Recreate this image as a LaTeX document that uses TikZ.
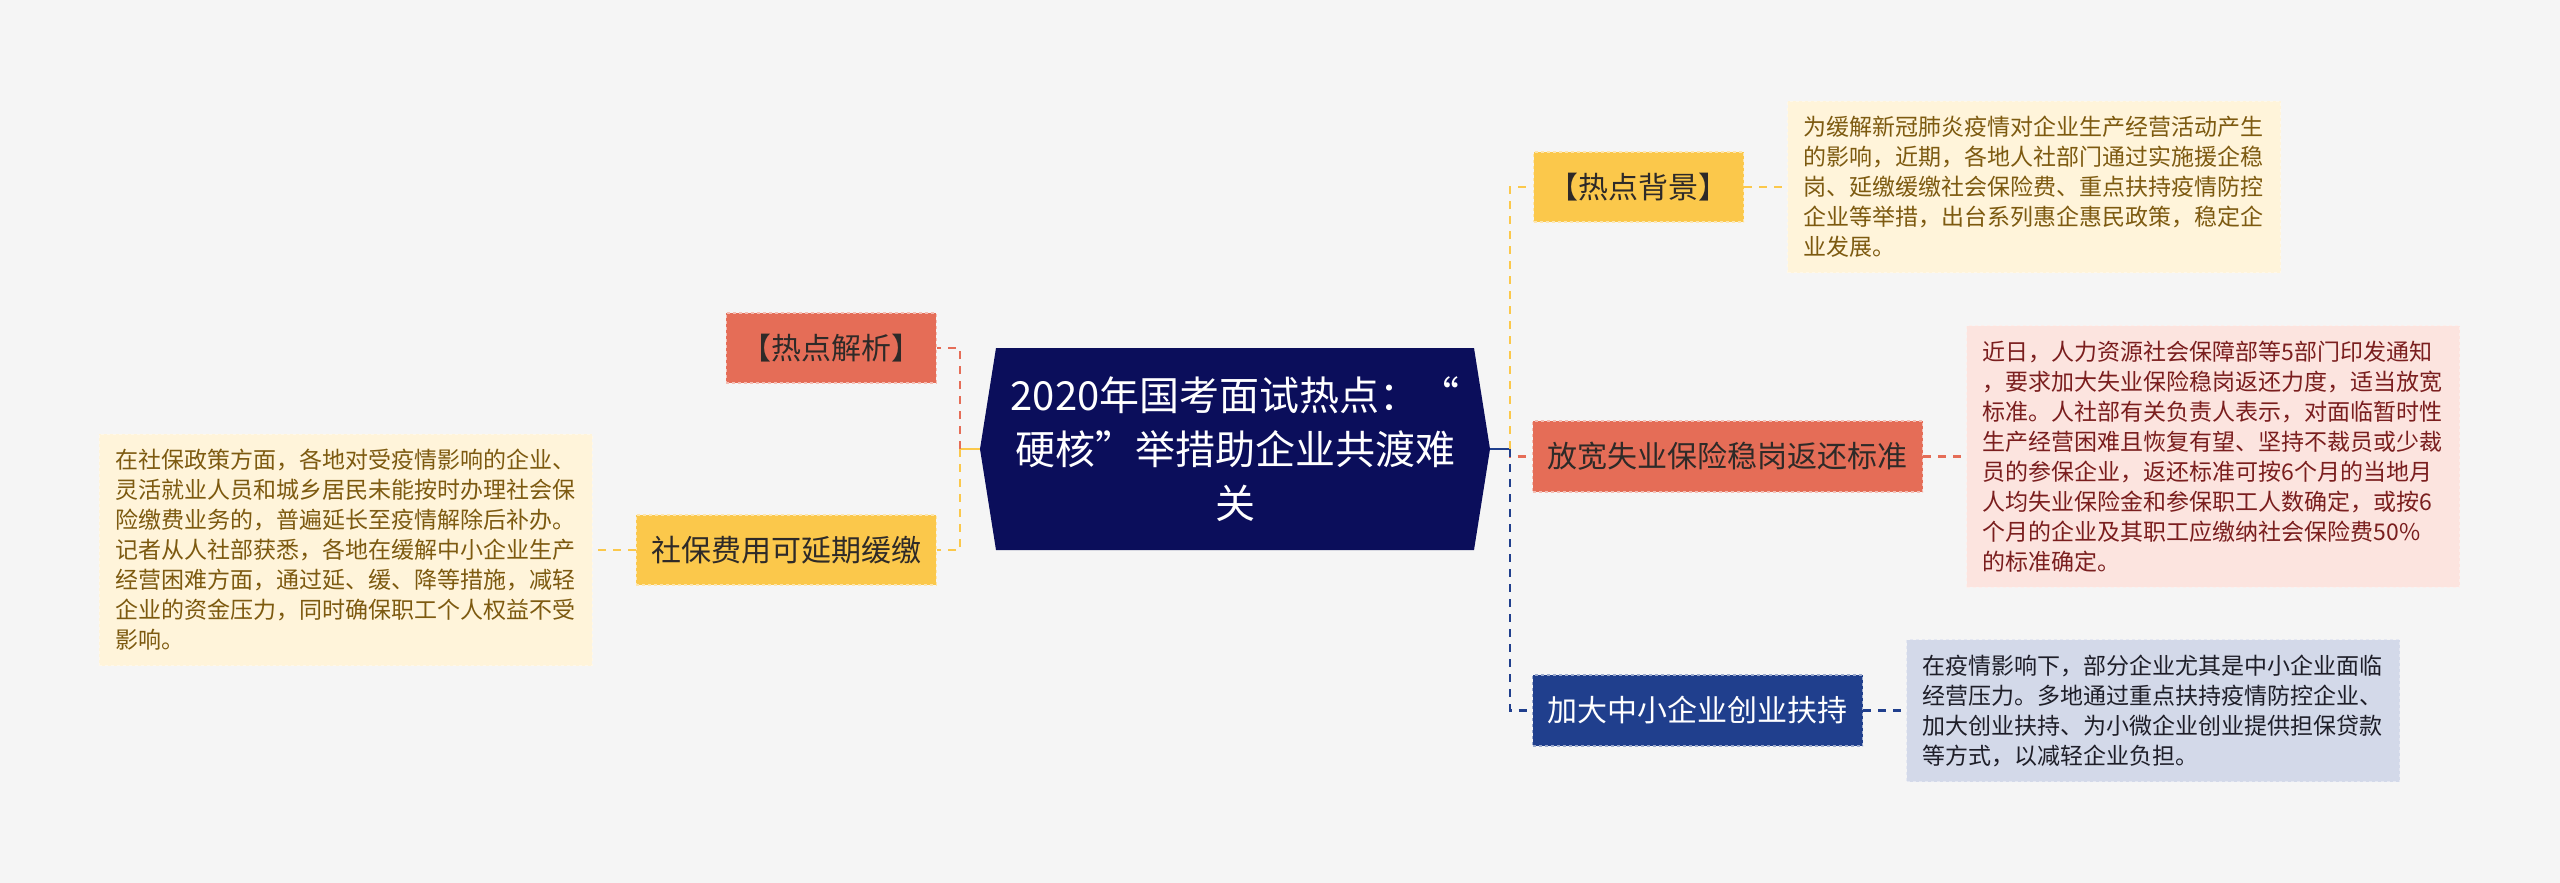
\documentclass[tikz,border=0pt]{standalone}
\usepackage{fontspec}
\setmainfont{Noto Sans CJK SC}
\usetikzlibrary{positioning,calc}
\definecolor{paperGray}{HTML}{F5F5F5}
\definecolor{hubNavy}{HTML}{0B0E5B}
\definecolor{hotRed}{HTML}{E56D57}
\definecolor{hotYellow}{HTML}{FBC84B}
\definecolor{hotBlue}{HTML}{203F8D}
\definecolor{creamFill}{HTML}{FFF4DA}
\definecolor{creamInk}{HTML}{7D5A10}
\definecolor{pinkFill}{HTML}{FCE4DF}
\definecolor{pinkInk}{HTML}{7A1E1E}
\definecolor{mistFill}{HTML}{D3D9E9}
\definecolor{mistInk}{HTML}{1E1E28}
\definecolor{darkInk}{HTML}{2E2A28}

\begin{document}
\begin{tikzpicture}[x=1pt, y=-1pt, node distance=43pt,
          hub/.style={align=center, text=white, font=\fontsize{40pt}{54pt}\selectfont},
          topic/.style={rectangle, dashed, line width=1.4pt, inner xsep=15pt, minimum height=70pt, font=\fontsize{30pt}{36pt}\selectfont, text=darkInk},
          bigtopic/.style={topic, minimum height=71pt},
          leaf/.style={rectangle, dashed, line width=1pt, inner xsep=16pt, inner ysep=15pt, text width=461pt, align=left, font=\fontsize{23pt}{30pt}\selectfont},
          wire/.style={dash pattern=on 8pt off 7pt, line width=2.5pt}]
        \useasboundingbox (0,0) rectangle (2560,883);
        \fill[paperGray] (0,0) rectangle (2560,883);
        % hub with pointed sides
        \coordinate (hubC) at (1235,449);
        \coordinate (hubW) at (980,449);
        \coordinate (hubE) at (1490,449);
        \coordinate (forkL) at (960,449);
        \coordinate (forkR) at (1510,449);
        \fill[hubNavy] (996,348) -- (1474,348) -- (hubE) -- (1474,550) -- (996,550) -- (hubW) -- cycle;
        \node[hub] (hub) at (hubC) {2020年国考面试热点：“\\硬核”举措助企业共渡难\\关};
        % left branches
        \node[topic, fill=hotRed, draw=hotRed!45!white, anchor=east] (jiexi) at (937,348) {【热点解析】};
        \node[topic, fill=hotYellow, draw=hotYellow!45!white, anchor=east] (shebao) at (937,550) {社保费用可延期缓缴};
        \node[leaf, left=of shebao, fill=creamFill, draw=white!40!creamFill, text=creamInk] (shebaoNote) {在社保政策方面，各地对受疫情影响的企业、\\灵活就业人员和城乡居民未能按时办理社会保\\险缴费业务的，普遍延长至疫情解除后补办。\\记者从人社部获悉，各地在缓解中小企业生产\\经营困难方面，通过延、缓、降等措施，减轻\\企业的资金压力，同时确保职工个人权益不受\\影响。};
        % right branches
        \node[topic, fill=hotYellow, draw=hotYellow!45!white, anchor=west] (beijing) at (1533,187) {【热点背景】};
        \node[leaf, right=of beijing, fill=creamFill, draw=white!40!creamFill, text=creamInk] (beijingNote) {为缓解新冠肺炎疫情对企业生产经营活动产生\\的影响，近期，各地人社部门通过实施援企稳\\岗、延缴缓缴社会保险费、重点扶持疫情防控\\企业等举措，出台系列惠企惠民政策，稳定企\\业发展。};
        \node[bigtopic, fill=hotRed, draw=hotRed!45!white, anchor=west] (fangkuan) at (1532,456.5) {放宽失业保险稳岗返还标准};
        \node[leaf, right=of fangkuan, fill=pinkFill, draw=white!40!pinkFill, text=pinkInk] (fangkuanNote) {近日，人力资源社会保障部等5部门印发通知\\，要求加大失业保险稳岗返还力度，适当放宽\\标准。人社部有关负责人表示，对面临暂时性\\生产经营困难且恢复有望、坚持不裁员或少裁\\员的参保企业，返还标准可按6个月的当地月\\人均失业保险金和参保职工人数确定，或按6\\个月的企业及其职工应缴纳社会保险费50\%\\的标准确定。};
        \node[bigtopic, fill=hotBlue, draw=hotBlue!45!white, text=white, anchor=west] (jiada) at (1532,710.5) {加大中小企业创业扶持};
        \node[leaf, right=of jiada, fill=mistFill, draw=white!40!mistFill, text=mistInk] (jiadaNote) {在疫情影响下，部分企业尤其是中小企业面临\\经营压力。多地通过重点扶持疫情防控企业、\\加大创业扶持、为小微企业创业提供担保贷款\\等方式，以减轻企业负担。};
        % connectors
        \draw[line width=2.5pt, hotYellow] (hubW) -- (forkL);
        \draw[wire, hotRed] (forkL) |- (jiexi.east);
        \draw[wire, hotYellow] (forkL) |- (shebao.east);
        \draw[wire, hotYellow] (shebao.west) -- (shebaoNote.east);
        \draw[line width=2.5pt, hotBlue] (hubE) -- (forkR);
        \draw[wire, hotYellow] (forkR) |- (beijing.west);
        \draw[wire, hotRed] (forkR) |- (fangkuan.west);
        \draw[wire, hotBlue] (forkR) |- (jiada.west);
        \draw[wire, hotYellow] (beijing.east) -- (beijingNote.west);
        \draw[wire, hotRed] (fangkuan.east) -- (fangkuanNote.west);
        \draw[wire, hotBlue] (jiada.east) -- (jiadaNote.west);
\end{tikzpicture}
\end{document}
